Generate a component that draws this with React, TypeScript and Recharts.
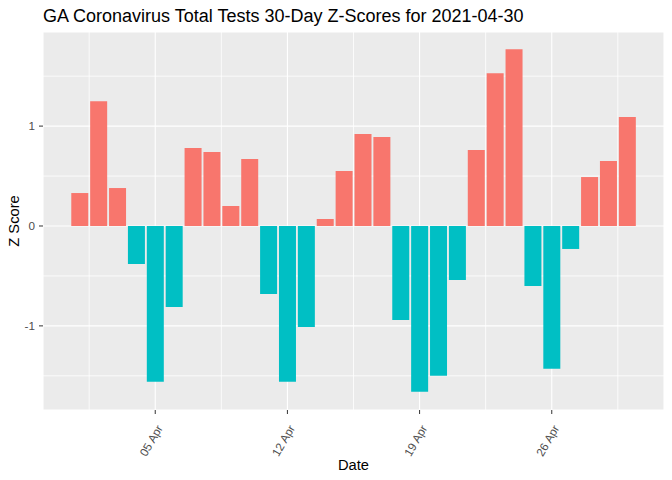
import { BarChart, Bar, Cell, XAxis, YAxis, CartesianGrid } from "recharts";

// day of April 2021 and its 30-day z-score
const days = [1, 2, 3, 4, 5, 6, 7, 8, 9, 10, 11, 12, 13, 14, 15, 16, 17, 18, 19, 20, 21, 22, 23, 24, 25, 26, 27, 28, 29, 30];
const zScores = [
  0.33, 1.25, 0.38, -0.38, -1.56, -0.81, 0.78, 0.74, 0.2, 0.67,
  -0.68, -1.56, -1.01, 0.07, 0.55, 0.92, 0.89, -0.94, -1.66, -1.5,
  -0.54, 0.76, 1.53, 1.77, -0.6, -1.43, -0.23, 0.49, 0.65, 1.09,
];
const xTicks = [5, 12, 19, 26];
const xTickLabels = ["05 Apr", "12 Apr", "19 Apr", "26 Apr"];
const xMinor = [1.5, 8.5, 15.5, 22.5, 29.5];
const yTicks = [-1, 0, 1];
const yMinor = [-1.5, -0.5, 0.5, 1.5];

const X_DOMAIN = [-0.945, 31.945];
const Y_DOMAIN = [-1.842, 1.942];

const data = days.map((d, i) => ({ day: d, z: zScores[i] }));

const FONT = '"Liberation Sans", Arial, sans-serif';
const POS = "#F8766D";
const NEG = "#00BFC4";

function DateTick(props: any) {
  const { x, y, payload } = props;
  const idx = xTicks.indexOf(payload.value);
  const label = idx >= 0 ? xTickLabels[idx] : "";
  const ex = x + 8;
  const ey = y + 12;
  return (
    <text
      x={ex}
      y={ey}
      textAnchor="end"
      transform={`rotate(-60, ${ex}, ${ey})`}
      fontSize={11.7}
      fontFamily={FONT}
      fill="#4D4D4D"
    >
      {label}
    </text>
  );
}

// minor grid positions go through the axis scale when it is there
const minorX = ({ xAxis, offset }: any) =>
  xMinor.map((v) =>
    xAxis && typeof xAxis.scale === "function"
      ? xAxis.scale(v)
      : offset.left + ((v - X_DOMAIN[0]) / (X_DOMAIN[1] - X_DOMAIN[0])) * offset.width
  );
const minorY = ({ yAxis, offset }: any) =>
  yMinor.map((v) =>
    yAxis && typeof yAxis.scale === "function"
      ? yAxis.scale(v)
      : offset.top + ((Y_DOMAIN[1] - v) / (Y_DOMAIN[1] - Y_DOMAIN[0])) * offset.height
  );

export default function App() {
  return (
    <div style={{ position: "absolute", left: 0, top: 0, width: 672, height: 480, background: "#fff" }}>
      <BarChart
        width={672}
        height={480}
        data={data}
        margin={{ top: 32, right: 8, left: 0, bottom: 0 }}
      >
        <CartesianGrid fill="#EBEBEB" stroke="#FFFFFF" strokeWidth={1.1} />
        <CartesianGrid
          fill="none"
          stroke="#FFFFFF"
          strokeWidth={0.8}
          verticalCoordinatesGenerator={minorX}
          horizontalCoordinatesGenerator={minorY}
        />
        <XAxis
          dataKey="day"
          type="number"
          domain={X_DOMAIN}
          ticks={xTicks}
          allowDataOverflow
          height={70}
          axisLine={false}
          tickSize={4}
          tickLine={{ stroke: "#333333", strokeWidth: 1 }}
          tick={<DateTick />}
          interval={0}
        />
        <YAxis
          type="number"
          domain={Y_DOMAIN}
          ticks={yTicks}
          allowDataOverflow
          width={43}
          axisLine={false}
          tickSize={4}
          tickMargin={4}
          tickLine={{ stroke: "#333333", strokeWidth: 1 }}
          tick={{ fontSize: 11.7, fill: "#4D4D4D", fontFamily: FONT }}
        />
        <Bar dataKey="z" barSize={17} isAnimationActive={false}>
          {data.map((d) => (
            <Cell key={d.day} fill={d.z >= 0 ? POS : NEG} />
          ))}
        </Bar>
      </BarChart>
      <svg
        width={672}
        height={480}
        style={{ position: "absolute", left: 0, top: 0, pointerEvents: "none" }}
      >
        <text x={43} y={21.5} fontSize={18} fontFamily={FONT} fill="#000">
          GA Coronavirus Total Tests 30-Day Z-Scores for 2021-04-30
        </text>
        <text x={353.5} y={470} textAnchor="middle" fontSize={14.7} fontFamily={FONT} fill="#000">
          Date
        </text>
        <text
          x={19}
          y={221}
          textAnchor="middle"
          transform="rotate(-90, 19, 221)"
          fontSize={14.7}
          fontFamily={FONT}
          fill="#000"
        >
          Z Score
        </text>
      </svg>
    </div>
  );
}
